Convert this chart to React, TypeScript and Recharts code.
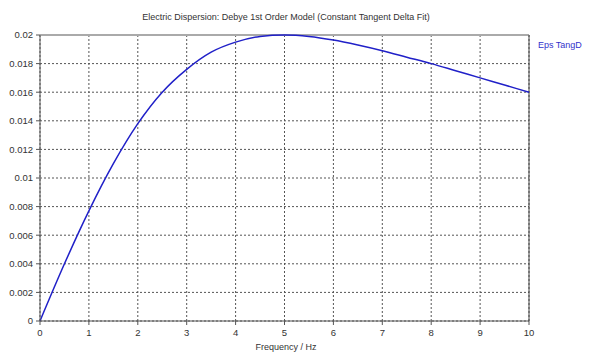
import React from "react";
import { LineChart, Line, XAxis, YAxis, CartesianGrid, ReferenceLine } from "recharts";

const frequency = [0, 0.5, 1, 1.5, 2, 2.5, 3, 3.5, 4, 4.5, 5, 5.5, 6, 6.5, 7, 7.5, 8, 8.5, 9, 9.5, 10];
const epsTangD = [0, 0.004, 0.0077, 0.011, 0.0138, 0.016, 0.0176, 0.0188, 0.0195, 0.0199, 0.02, 0.0199, 0.01965, 0.0193, 0.0189, 0.01845, 0.018, 0.0175, 0.017, 0.0165, 0.016];
const xTicks = [0, 1, 2, 3, 4, 5, 6, 7, 8, 9, 10];
const yTicks = [0, 0.002, 0.004, 0.006, 0.008, 0.01, 0.012, 0.014, 0.016, 0.018, 0.02];
const title = "Electric Dispersion: Debye 1st Order Model (Constant Tangent Delta Fit)";
const xLabel = "Frequency / Hz";
const seriesName = "Eps TangD";

const data = frequency.map((f, i) => ({ f, v: epsTangD[i] }));

const font = "'Liberation Sans', Arial, sans-serif";
const tickStyle = { fill: "#333", fontSize: 9.5, fontFamily: font };

export default function App() {
  return (
    <div style={{ position: "absolute", left: 0, top: 0, width: 600, height: 357, background: "#fff" }}>
      <div style={{ position: "absolute", left: 0, width: 572, top: 12, textAlign: "center", fontFamily: font, fontSize: 9, color: "#333" }}>
        {title}
      </div>
      <div style={{ position: "absolute", left: 538, top: 40, fontFamily: font, fontSize: 9, color: "#3333cc" }}>
        {seriesName}
      </div>
      <div style={{ position: "absolute", left: 0, width: 572, top: 342, textAlign: "center", fontFamily: font, fontSize: 9, color: "#333" }}>
        {xLabel}
      </div>
      <LineChart width={600} height={357} data={data} margin={{ top: 35, right: 71, bottom: 0, left: 0 }}>
        <CartesianGrid stroke="#555" strokeDasharray="2 2" />
        <XAxis
          dataKey="f"
          type="number"
          domain={[0, 10]}
          ticks={xTicks}
          height={36}
          tickSize={4}
          tickMargin={4}
          tick={tickStyle}
          stroke="#555"
        />
        <YAxis
          type="number"
          domain={[0, 0.02]}
          ticks={yTicks}
          width={40}
          tickSize={4}
          tickMargin={3}
          tick={tickStyle}
          stroke="#555"
        />
        <ReferenceLine y={0.02} stroke="#aaa" strokeWidth={2} />
        <ReferenceLine x={10} stroke="#444" strokeWidth={1} />
        <Line type="monotone" dataKey="v" stroke="#2020c8" strokeWidth={1.5} dot={false} isAnimationActive={false} />
      </LineChart>
    </div>
  );
}
